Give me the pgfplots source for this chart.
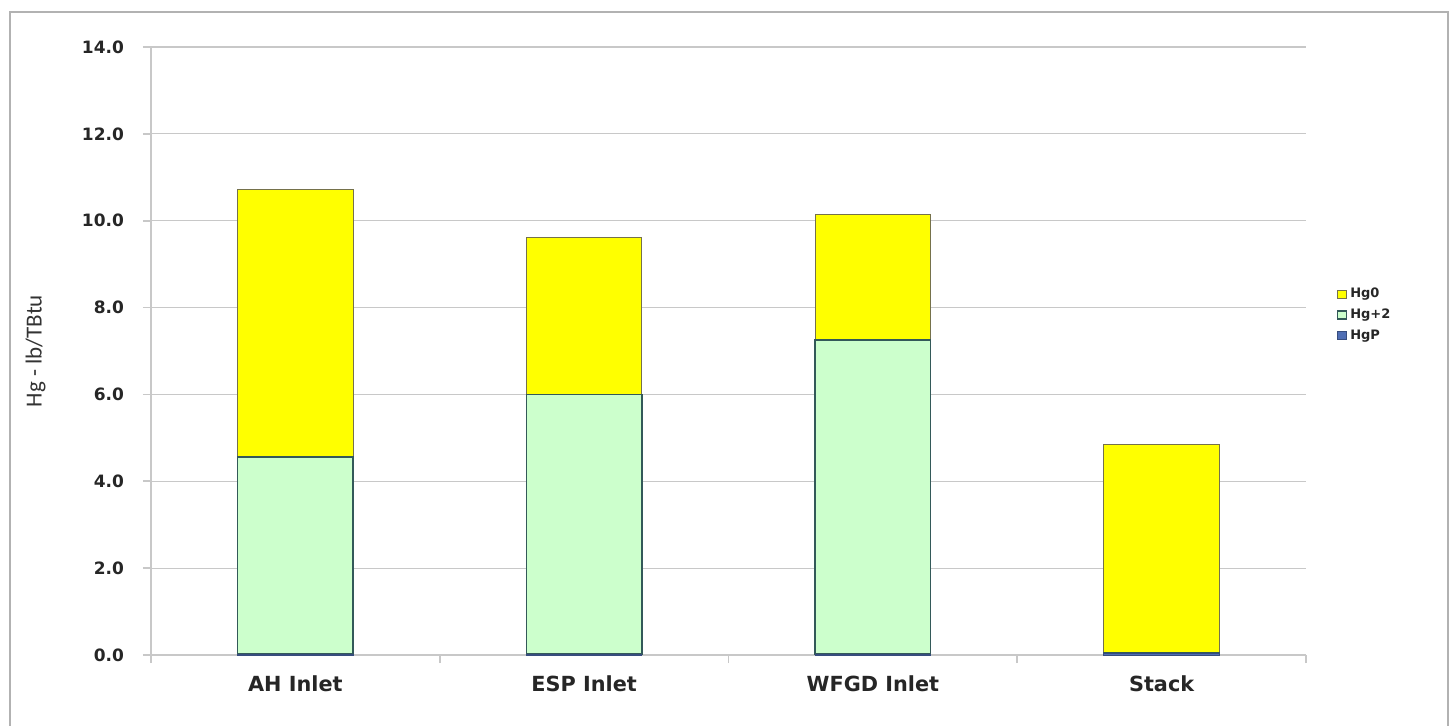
\documentclass[border=0pt]{standalone}
\usepackage{pgfplots}
\pgfplotsset{compat=1.18}
\usepackage{fontspec}
\setmainfont{Carlito}
\newfontfamily\tickfont{DejaVu Sans}
\definecolor{hgzero}{RGB}{255,255,0}
\definecolor{hgtwo}{RGB}{204,255,204}
\definecolor{hgp}{RGB}{79,110,180}
\definecolor{gridgray}{RGB}{200,200,200}
\begin{document}
\begin{tikzpicture}
\useasboundingbox (0,0) rectangle (725.5pt,362.5pt);
\draw[gray!60, line width=1pt] (5pt,-2pt) rectangle (724pt,356.5pt);
\begin{axis}[
  at={(75.5pt,35pt)}, anchor=south west,
  scale only axis, width=577.5pt, height=304pt,
  ybar stacked, bar width=0.4,
  xmin=-0.5, xmax=3.5, ymin=0, ymax=14,
  xtick={0,1,2,3},
  xticklabels={AH Inlet,ESP Inlet,WFGD Inlet,Stack},
  minor xtick={-0.5,0.5,1.5,2.5,3.5},
  ytick={0,2,...,14},
  major x tick style={draw=none},
  minor tick length=4pt,
  major tick length=4pt,
  tick align=outside,
  tick style={gridgray, line width=0.8pt},
  axis x line*=bottom, axis y line*=left,
  axis line style={-, gridgray, line width=0.8pt},
  ymajorgrids, grid style={gridgray, line width=0.6pt},
  /pgf/number format/assume math mode=true,
  yticklabel style={/pgf/number format/fixed, /pgf/number format/fixed zerofill, /pgf/number format/precision=1,
    font=\tickfont\bfseries\fontsize{8.5}{9}\selectfont, text=black!85, xshift=-6pt},
  xticklabel style={font=\tickfont\bfseries\fontsize{10.4}{11}\selectfont, text=black!85, yshift=-3pt},
  ylabel={Hg - lb/TBtu},
  every axis y label/.style={at={(axis description cs:-0.1,0.5)}, rotate=90, anchor=center},
  ylabel style={font=\fontsize{11.5}{12}\selectfont, text=black!80},
  reverse legend,
  legend cell align=left,
  legend style={at={(1.021,0.559)}, anchor=west, draw=none, fill=none,
    font=\tickfont\bfseries\fontsize{6.5}{7.5}\selectfont, text=black!85,
    row sep=0pt, nodes={inner xsep=1.5pt}},
  legend image code/.code={\draw[#1] (0pt,-2pt) rectangle (4.5pt,2pt);},
]
\addplot[fill=hgp, draw=hgp!70!black] coordinates {(0,0.02) (1,0.02) (2,0.02) (3,0.03)};
\addplot[fill=hgtwo, draw=black!50!teal!60!gray, line width=0.8pt] coordinates {(0,4.54) (1,5.98) (2,7.23) (3,0.02)};
\addplot[fill=hgzero, draw=black!40!olive!60!gray, line width=0.6pt] coordinates {(0,6.15) (1,3.61) (2,2.90) (3,4.80)};
\legend{HgP,Hg+2,Hg0}
\end{axis}
\end{tikzpicture}
\end{document}
